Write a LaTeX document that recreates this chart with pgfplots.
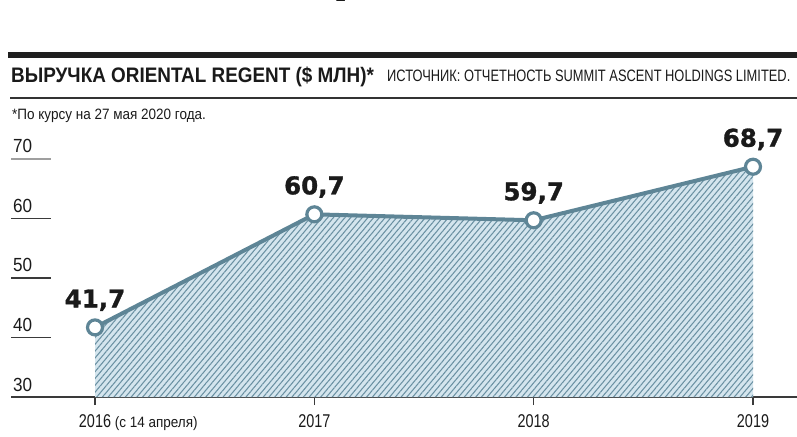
\documentclass[border=0pt]{standalone}
\usepackage{fontspec}
\usepackage{pgfplots}
\pgfplotsset{compat=1.18}
\usetikzlibrary{patterns.meta}
\setmainfont{Liberation Sans}[FakeStretch=0.78]
\newfontfamily\condA{Liberation Sans}[FakeStretch=0.9]
\newfontfamily\heavy{DejaVu Sans}[FakeBold=1.2]
\newfontfamily\serif{Liberation Serif}
\definecolor{slate}{HTML}{5E8596}
\definecolor{fillblue}{HTML}{D4E5EE}
\definecolor{hatch}{HTML}{6A90A2}
\definecolor{axisgray}{HTML}{3A3A3A}
\definecolor{txt}{HTML}{1A1A1A}
\begin{document}
\begin{tikzpicture}[every node/.style={inner sep=0pt, text=txt}]
\useasboundingbox (0,0) rectangle (797bp,437bp);
% cut-off heading fragment
\node[anchor=base] at (341bp,435bp) {\fontsize{40bp}{40bp}\selectfont\serif т};
% header bars
\fill[black!88] (8bp,379bp) rectangle (797bp,385bp);
\draw[black!80, line width=1.4bp] (10bp,339bp) -- (797bp,339bp);
\node[anchor=base west] at (11bp,354bp) {\fontsize{21bp}{23bp}\selectfont\condA\bfseries ВЫРУЧКА ORIENTAL REGENT (\$ МЛН)*};
\node[anchor=base west] at (387bp,355bp) {\fontsize{16.5bp}{18bp}\selectfont ИСТОЧНИК: ОТЧЕТНОСТЬ SUMMIT ASCENT HOLDINGS LIMITED.};
\node[anchor=base west] at (12bp,317bp) {\fontsize{15bp}{17bp}\selectfont\condA *По курсу на 27 мая 2020 года.};
\begin{axis}[
  at={(11bp,40bp)}, anchor=south west,
  scale only axis, width=786bp, height=238bp,
  xmin=-0.3830, xmax=3.2006, ymin=30, ymax=70,
  clip=false,
  axis x line*=bottom, axis y line=none,
  x axis line style={draw=axisgray, line width=1.4bp},
  xtick={0,1,2,3}, xticklabels={},
  ytick=\empty,
  xtick align=outside, major tick length=8bp,
  xtick style={draw=axisgray, line width=1.2bp},
]
\addplot[draw=none, fill=fillblue, postaction={pattern={Lines[angle=50, distance=4.4bp, line width=1.05bp]}, pattern color=hatch}]
  coordinates {(0,41.7) (1,60.7) (2,59.7) (3,68.7)} \closedcycle;
\addplot[slate, line width=4bp, mark=*, mark size=7.5bp,
  mark options={fill=white, draw=slate, line width=3.2bp},
  nodes near coords, point meta=explicit symbolic,
  every node near coord/.append style={anchor=base, yshift=20bp, inner sep=0pt, text=txt, font=\heavy\bfseries\fontsize{24.5bp}{26bp}\selectfont}]
  coordinates {(0,41.7)[41,7] (1,60.7)[60,7] (2,59.7)[59,7] (3,68.7)[68,7]};
% y labels with short rules
\foreach \v/\c in {70/gray!75, 60/axisgray, 50/axisgray, 40/axisgray} {
  \edef\tmp{\noexpand\draw[\c, line width=1.2bp] (axis cs:-0.3830,\v) -- ([xshift=40bp]axis cs:-0.3830,\v);}\tmp
  \edef\tmp{\noexpand\node[anchor=base west] at ([xshift=2bp, yshift=6bp]axis cs:-0.3830,\v) {\noexpand\fontsize{19bp}{21bp}\noexpand\selectfont\noexpand\condA \v};}\tmp
}
\node[anchor=base west] at ([xshift=2bp, yshift=6bp]axis cs:-0.3830,30) {\fontsize{19bp}{21bp}\selectfont\condA 30};
% x labels
\node[anchor=base] at ([yshift=-30bp]axis cs:0,30) {\fontsize{18.5bp}{20bp}\selectfont 2016\rlap{\fontsize{15bp}{17bp}\selectfont\condA\ (с 14 апреля)}};
\node[anchor=base] at ([yshift=-30bp]axis cs:1,30) {\fontsize{18.5bp}{20bp}\selectfont 2017};
\node[anchor=base] at ([yshift=-30bp]axis cs:2,30) {\fontsize{18.5bp}{20bp}\selectfont 2018};
\node[anchor=base] at ([yshift=-30bp]axis cs:3,30) {\fontsize{18.5bp}{20bp}\selectfont 2019};
\end{axis}
\end{tikzpicture}
\end{document}
